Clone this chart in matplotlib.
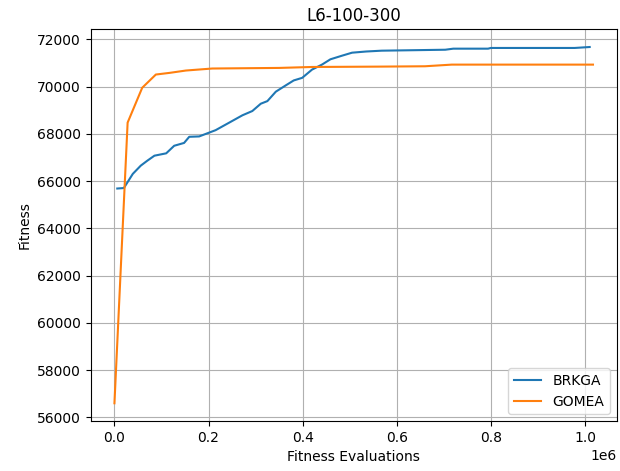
import matplotlib
matplotlib.use("Agg")
import matplotlib.pyplot as plt

# BRKGA trace (fitness evaluations, best fitness)
brkga_evals = [0.006e6, 0.02e6, 0.039e6, 0.056e6, 0.07e6, 0.085e6, 0.11e6, 0.127e6,
               0.148e6, 0.159e6, 0.18e6, 0.215e6, 0.244e6, 0.272e6, 0.293e6, 0.311e6,
               0.325e6, 0.343e6, 0.364e6, 0.381e6, 0.399e6, 0.42e6, 0.441e6, 0.459e6,
               0.484e6, 0.505e6, 0.535e6, 0.568e6, 0.703e6, 0.72e6, 0.794e6, 0.8e6,
               0.978e6, 1.01e6]
brkga_fitness = [65690, 65710, 66310, 66660, 66870, 67080, 67180, 67500,
                 67620, 67880, 67895, 68160, 68480, 68790, 68970, 69280,
                 69390, 69790, 70055, 70265, 70375, 70725, 70935, 71160,
                 71315, 71440, 71490, 71525, 71565, 71610, 71610, 71640,
                 71640, 71680]

# GOMEA trace
gomea_evals = [0.0, 0.028e6, 0.059e6, 0.088e6, 0.117e6, 0.152e6, 0.208e6, 0.35e6,
               0.42e6, 0.561e6, 0.66e6, 0.717e6, 1.017e6]
gomea_fitness = [56600, 68480, 69955, 70515, 70585, 70685, 70770, 70795,
                 70835, 70850, 70865, 70935, 70935]

fig = plt.figure(figsize=(6.2, 4.71), dpi=100)
ax = fig.add_axes([0.146, 0.106, 0.849, 0.832])
ax.plot(brkga_evals, brkga_fitness, label="BRKGA")
ax.plot(gomea_evals, gomea_fitness, label="GOMEA")
ax.set_title("L6-100-300")
ax.set_xlabel("Fitness Evaluations")
ax.set_ylabel("Fitness")
ax.grid(True)
ax.legend(loc="lower right")

fig.savefig("out.png", dpi=100)
